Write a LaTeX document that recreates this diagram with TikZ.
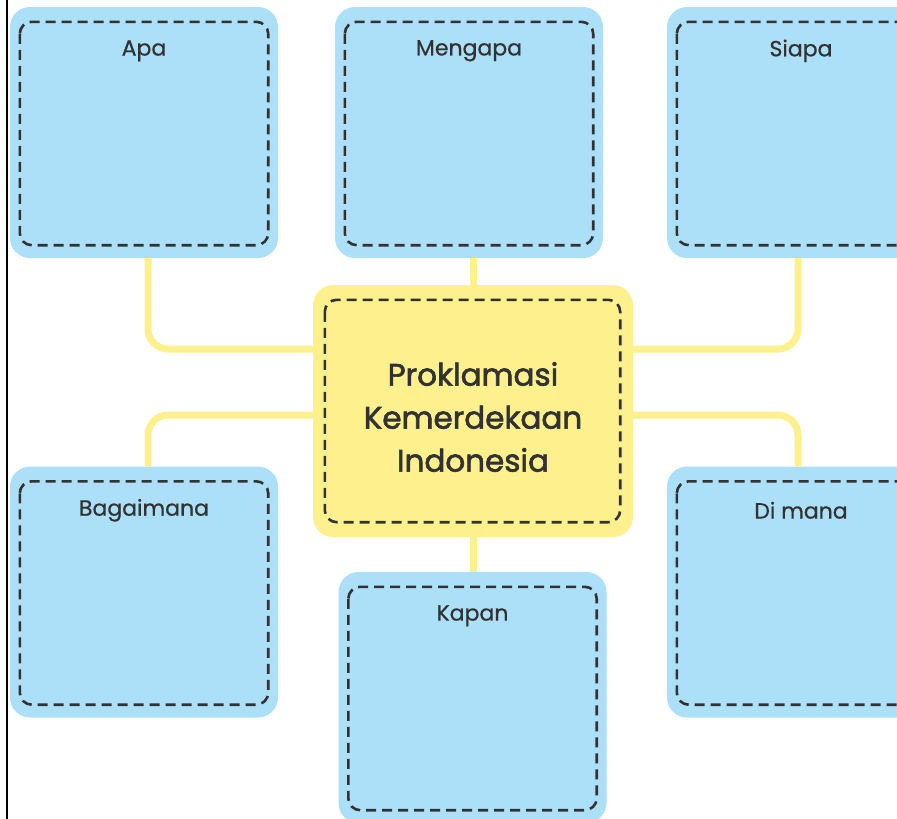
\documentclass[tikz,border=0pt]{standalone}
\usepackage{fontspec}
\setmainfont{Poppins}
\newfontfamily\hubfont{Poppins}[FakeBold=2]
\newfontfamily\labelfont{Poppins}[FakeBold=0.6]
\usetikzlibrary{positioning}

\definecolor{skyfill}{RGB}{172,223,248}
\definecolor{sunfill}{RGB}{255,240,142}
\definecolor{dashgray}{RGB}{50,50,50}

\tikzset{
  qbox/.style={fill=skyfill, rounded corners=20pt, minimum width=268pt,
    minimum height=251pt, inner sep=0pt},
  hubbox/.style={fill=sunfill, rounded corners=20pt, minimum width=320pt,
    minimum height=252pt, inner sep=0pt},
  innerdash/.style={draw=dashgray, line width=2.6pt, rounded corners=12pt,
    dash pattern=on 10pt off 6pt},
  qlabel/.style={text=dashgray, font=\labelfont\fontsize{22}{26}\selectfont},
  hubtext/.style={text=dashgray, align=center,
    font=\hubfont\fontsize{31}{43}\selectfont},
  link/.style={draw=sunfill, line width=7pt, rounded corners=20pt}
}

\begin{document}
\begin{tikzpicture}[x=1pt, y=-1pt]
  \useasboundingbox (0,0) rectangle (897,819);
  \clip (0,0) rectangle (897,819);

  % question boxes
  \foreach \nm/\cx/\cy/\txt in {apa/144/132.5/Apa, mengapa/469/132.5/Mengapa,
      siapa/801/132.5/Siapa, bagaimana/144/592/Bagaimana,
      kapan/472.5/697.5/Kapan, dimana/801/592/Di mana}
  {
    \node[qbox] (\nm) at (\cx,\cy) {};
    \draw[innerdash] ([shift={(10pt,-15pt)}]\nm.north west)
      rectangle ([shift={(-10pt,13pt)}]\nm.south east);
    \node[qlabel] (\nm-lbl) at ([yshift=-44pt]\nm.north) {\txt};
  }

  % central topic
  \node[hubbox] (hub) at (473,411) {};
  \draw[innerdash] ([shift={(12pt,-15pt)}]hub.north west)
    rectangle ([shift={(-13pt,15pt)}]hub.south east);
  \node[hubtext] (hub-txt) at ([yshift=-6pt]hub.center)
    {Proklamasi\\Kemerdekaan\\Indonesia};

  % yellow connectors
  \draw[link] ([xshift=4pt]apa.south) |- ([yshift=62pt]hub.west);
  \draw[link] ([xshift=-3pt]siapa.south) |- ([yshift=62pt]hub.east);
  \draw[link] ([xshift=4pt]bagaimana.north) |- ([yshift=-4pt]hub.west);
  \draw[link] ([xshift=-3pt]dimana.north) |- ([yshift=-4pt]hub.east);
  \draw[link] (hub.north) -- (hub.north |- mengapa.south);
  \draw[link] (hub.south) -- (hub.south |- kapan.north);

  % page edge
  \draw[line width=2pt] (7,0) -- (7,819);
\end{tikzpicture}
\end{document}
